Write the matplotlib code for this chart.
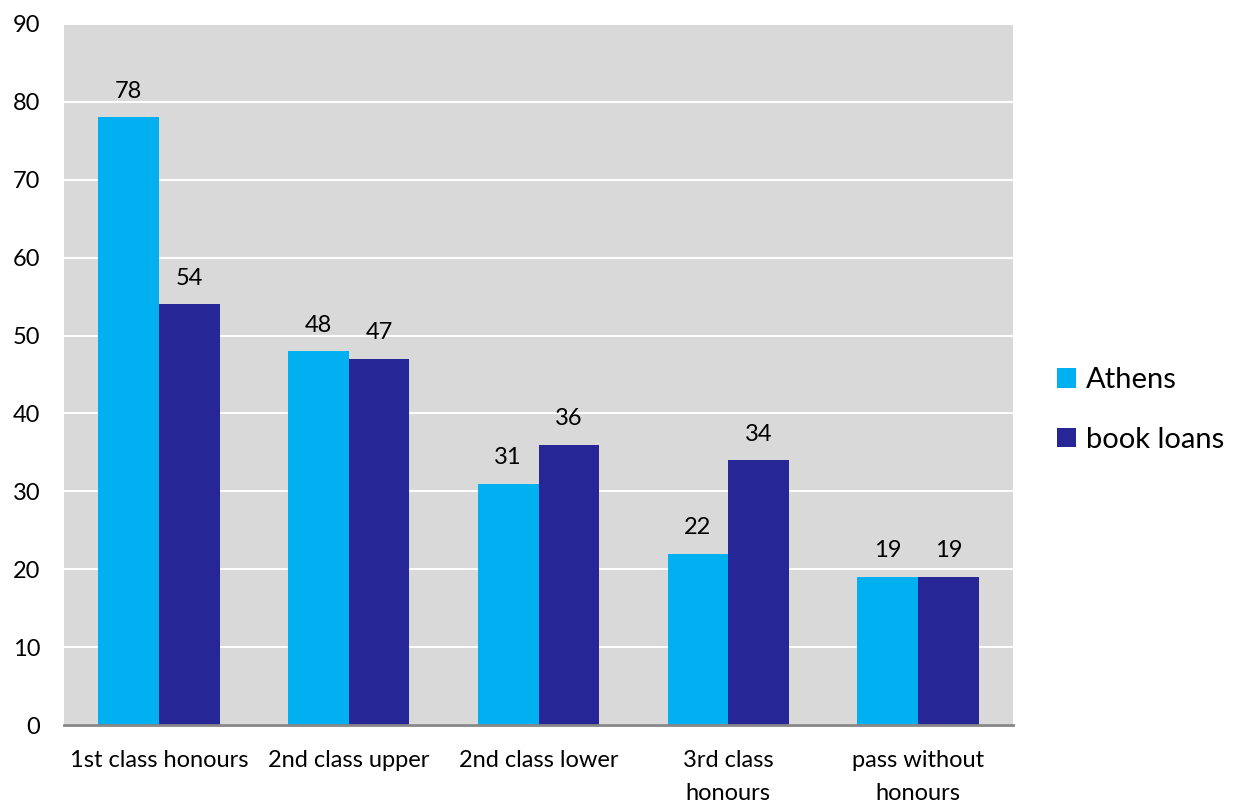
import matplotlib
matplotlib.use("Agg")
import matplotlib.pyplot as plt
import numpy as np

categories = ["1st class honours", "2nd class upper", "2nd class lower",
              "3rd class\nhonours", "pass without\nhonours"]
athens = [78, 48, 31, 22, 19]
book_loans = [54, 47, 36, 34, 19]
series_names = ["Athens", "book loans"]
yticks = list(range(0, 91, 10))

plt.rcParams["font.family"] = ["Lato", "DejaVu Sans"]

fig = plt.figure(figsize=(12.4, 8.02), dpi=100)
ax = fig.add_axes([64 / 1240, 77 / 802, 949 / 1240, 701 / 802])
ax.set_facecolor("#d9d9d9")

x = np.arange(len(categories))
w = 0.32
c1, c2 = "#00b0f0", "#262697"
b1 = ax.bar(x - w / 2, athens, w, color=c1, label=series_names[0], zorder=3)
b2 = ax.bar(x + w / 2, book_loans, w, color=c2, label=series_names[1], zorder=3)

for bars, vals in ((b1, athens), (b2, book_loans)):
    for rect, v in zip(bars, vals):
        ax.text(rect.get_x() + rect.get_width() / 2, v + 2.0, str(v),
                ha="center", va="bottom", fontsize=17, color="#000000")

ax.set_xlim(-0.5, len(categories) - 0.5)
ax.set_ylim(0, 90)
ax.set_yticks(yticks)
ax.set_xticks(x)
ax.set_xticklabels(categories, fontsize=17, linespacing=1.7)
ax.tick_params(axis="y", labelsize=17, length=0, pad=17)
ax.tick_params(axis="x", length=0, pad=18)
ax.grid(axis="y", color="white", linewidth=1.5, zorder=1)
for side in ("left", "right", "top"):
    ax.spines[side].set_visible(False)
ax.spines["bottom"].set_color("#868686")
ax.spines["bottom"].set_linewidth(2)
ax.spines["bottom"].set_zorder(4)

fig.legend(handles=[b1, b2], labels=series_names, loc="center left",
           bbox_to_anchor=(1057 / 1240, 1 - 410 / 802), frameon=False,
           fontsize=21, handlelength=0.65, handleheight=0.65,
           handletextpad=0.35, labelspacing=1.15, borderpad=0,
           borderaxespad=0)

fig.savefig("out.png", dpi=100, facecolor="white")
